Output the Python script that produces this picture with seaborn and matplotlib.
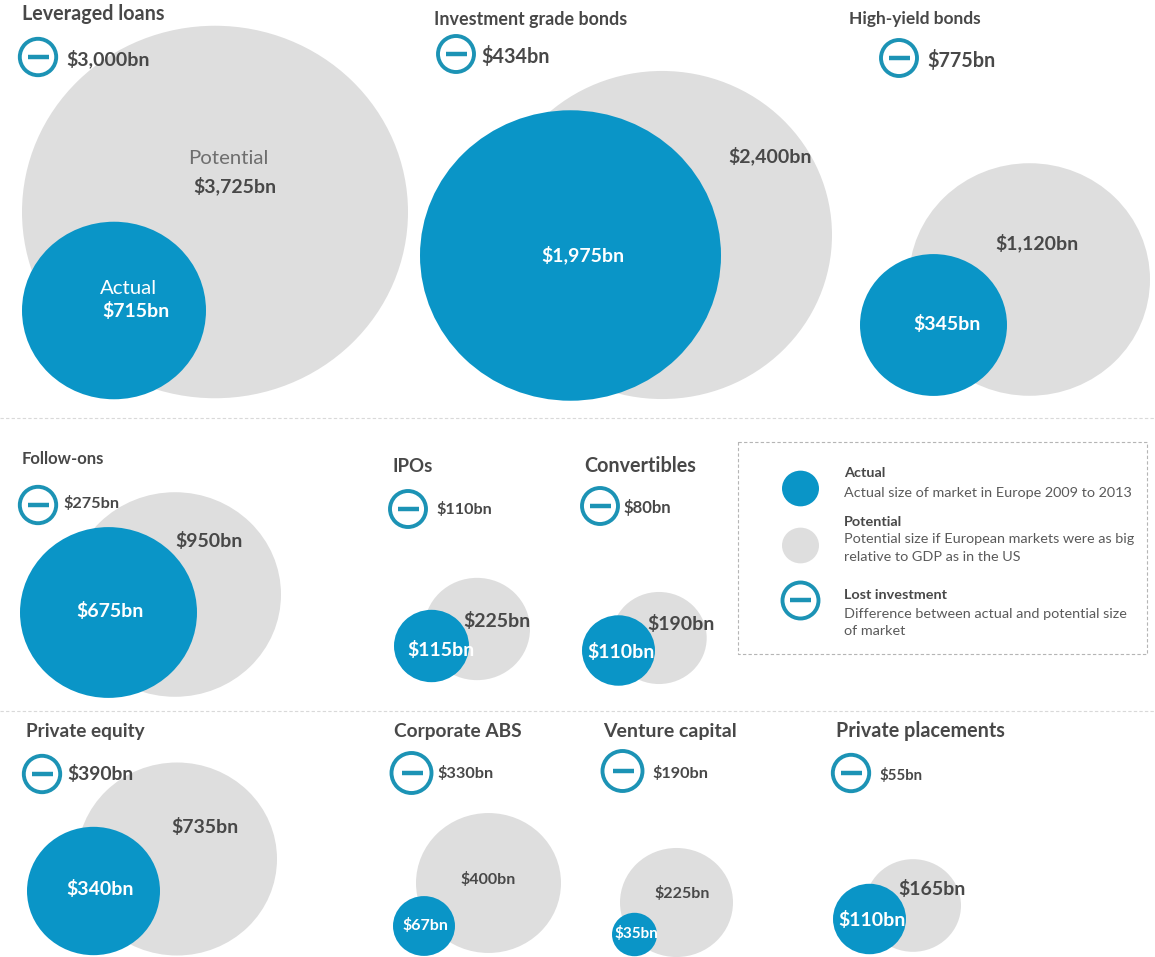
#!/usr/bin/env python
"""Actual vs potential size of European capital markets, as overlapping bubbles."""

import matplotlib.pyplot as plt
import numpy as np
import pandas as pd
import seaborn as sns
from matplotlib.markers import MarkerStyle
from matplotlib.transforms import Affine2D

# Data
markets = [
    "Leveraged loans", "Investment grade bonds", "High-yield bonds",
    "Follow-ons", "IPOs", "Convertibles",
    "Private equity", "Corporate ABS", "Venture capital", "Private placements",
]
actual = [715, 1975, 345, 675, 115, 110, 340, 67, 35, 110]
potential = [3725, 2400, 1120, 950, 225, 190, 735, 400, 225, 165]
lost = [3000, 434, 775, 275, 110, 80, 390, 330, 190, 55]

# Layout, in picture pixels. Radii are horizontal; the source picture is a bit squashed.
grey_x = [215, 662, 1029.5, 175, 477, 659, 177, 488.5, 676.5, 913]
grey_y = [212, 235, 279.5, 594.5, 629, 638, 859, 883, 902.5, 905.5]
grey_r = [193, 170, 120.5, 106, 53, 47.7, 100, 72.5, 56.5, 48]
blue_x = [114, 570.5, 933.5, 108.5, 431.5, 618.5, 93.5, 424, 634.5, 869.5]
blue_y = [310.5, 255.5, 325, 612.5, 646, 650.5, 891, 926, 934.5, 919]
blue_r = [92, 150.5, 73.5, 88.5, 37.5, 36.5, 66.5, 31, 22.5, 36.5]
icon_x = [38, 456, 899, 38, 408, 600, 42, 411.5, 622.5, 851]
icon_y = [57, 54, 58, 505, 509, 506, 774, 773, 771, 773]
icon_r = [18.2, 18, 18, 18.2, 18, 18, 18.2, 20, 20, 18.2]
title_x = [22, 434, 849, 22, 393, 584, 26, 394, 603, 836]
title_y = [14, 19, 19, 459, 466, 466, 732, 732, 732, 731]
title_fs = [14.2, 12.9, 12.5, 12, 13.4, 14.2, 13.7, 13.8, 14, 14.2]
lost_x = [66, 481, 927, 63, 436, 624, 67, 437, 652, 879]
lost_y = [59, 56, 60, 504, 510, 507, 774, 774, 773, 775]
lost_fs = [14, 14.2, 14.2, 11.7, 11.6, 12, 13.9, 11.7, 11.7, 10.8]
pot_x = [235, 770, 1037, 209, 497, 681, 205, 488, 682, 932]
pot_y = [186, 156, 243, 541, 621, 624, 827, 880, 894, 889]
pot_fs = [14, 14, 14, 14, 14, 14, 14, 11.5, 11.5, 14]
act_x = [136, 583, 947, 110, 441, 621, 100, 425, 636, 872]
act_y = [311, 255, 324, 611, 650, 652, 889, 926, 933, 920]
act_fs = [14, 14, 14, 14, 14, 14, 14, 11.5, 11, 14]

# Legend text
legend_heads = ["Actual", "Potential", "Lost investment"]
legend_head_y = [473, 522, 595]
legend_lines = [
    "Actual size of market in Europe 2009 to 2013",
    "Potential size if European markets were as big",
    "relative to GDP as in the US",
    "Difference between actual and potential size",
    "of market",
]
legend_line_y = [493, 539, 557, 614, 631]

BLUE = "#0A95C7"
GREY = "#DEDEDE"
TEAL = "#1C93B5"
DARK = "#484848"
BODY = "#5A5A5A"
SQUASH = 0.965

sns.set_theme(style="white")
plt.rcParams["font.family"] = ["Lato", "DejaVu Sans"]


def bubble_size(radius):
    """Scatter size in points^2 for a radius in pixels at 100 dpi."""
    return (2 * np.asarray(radius, dtype=float) * 0.72) ** 2


def draw_bubbles(ax, x, y, radius, color):
    df = pd.DataFrame({"x": x, "y": y})
    marker = MarkerStyle("o", transform=Affine2D().scale(1, SQUASH))
    sns.scatterplot(data=df, x="x", y="y", s=bubble_size(radius), color=color, marker=marker,
                    linewidth=0, legend=False, ax=ax)


def draw_icons(ax, x, y, radius):
    df = pd.DataFrame({"x": x, "y": y})
    sns.scatterplot(data=df, x="x", y="y", s=bubble_size(radius), facecolor="white",
                    edgecolor=TEAL, linewidth=2.8, legend=False, ax=ax)
    sns.scatterplot(data=df, x="x", y="y", s=bubble_size(10.5), marker="_",
                    color=TEAL, linewidth=3.2, legend=False, ax=ax)


fig, ax = plt.subplots(figsize=(11.55, 9.57), dpi=100)
ax.set_position([0, 0, 1, 1])

# Grey first, blue on top
draw_bubbles(ax, grey_x, grey_y, grey_r, GREY)
draw_bubbles(ax, blue_x, blue_y, blue_r, BLUE)
draw_icons(ax, icon_x, icon_y, icon_r)

# Legend symbols
draw_bubbles(ax, [800], [488], [18.5], BLUE)
draw_bubbles(ax, [800], [545], [18.5], GREY)
draw_icons(ax, [800], [600], [18])

for i, name in enumerate(markets):
    ax.text(title_x[i], title_y[i], name, fontsize=title_fs[i], fontweight="bold",
            color=DARK, va="center", ha="left")
    ax.text(lost_x[i], lost_y[i], f"${lost[i]:,}bn", fontsize=lost_fs[i],
            fontweight="bold", color=DARK, va="center", ha="left")
    ax.text(pot_x[i], pot_y[i], f"${potential[i]:,}bn", fontsize=pot_fs[i],
            fontweight="bold", color=DARK, va="center", ha="center")
    ax.text(act_x[i], act_y[i], f"${actual[i]:,}bn", fontsize=act_fs[i],
            fontweight="bold", color="white", va="center", ha="center")

# Words on the largest pair
ax.text(228, 159, "Potential", fontsize=14.7, color="#6E6E6E", va="center", ha="center")
ax.text(129, 288, "Actual", fontsize=14.7, color="white", va="center", ha="center")

# Section rules and the legend frame
rule = dict(color="#D9D9D9", linewidth=0.8, linestyle=(0, (3, 2)))
ax.plot([0, 1155], [418, 418], **rule)
ax.plot([0, 1155], [711, 711], **rule)
frame = dict(color="#B5B5B5", linewidth=0.8, linestyle=(0, (3, 2)))
ax.plot([738, 1147, 1147, 738, 738], [442, 442, 654, 654, 442], **frame)

for head, y in zip(legend_heads, legend_head_y):
    ax.text(844, y, head, fontsize=10.4, fontweight="bold", color=DARK, va="center", ha="left")
for line, y in zip(legend_lines, legend_line_y):
    ax.text(844, y, line, fontsize=10.4, color=BODY, va="center", ha="left")

ax.set_xlim(0, 1155)
ax.set_ylim(957, 0)
ax.set_xlabel("")
ax.set_ylabel("")
ax.set_xticks([])
ax.set_yticks([])
sns.despine(ax=ax, left=True, bottom=True)

fig.savefig("out.png", dpi=100)
